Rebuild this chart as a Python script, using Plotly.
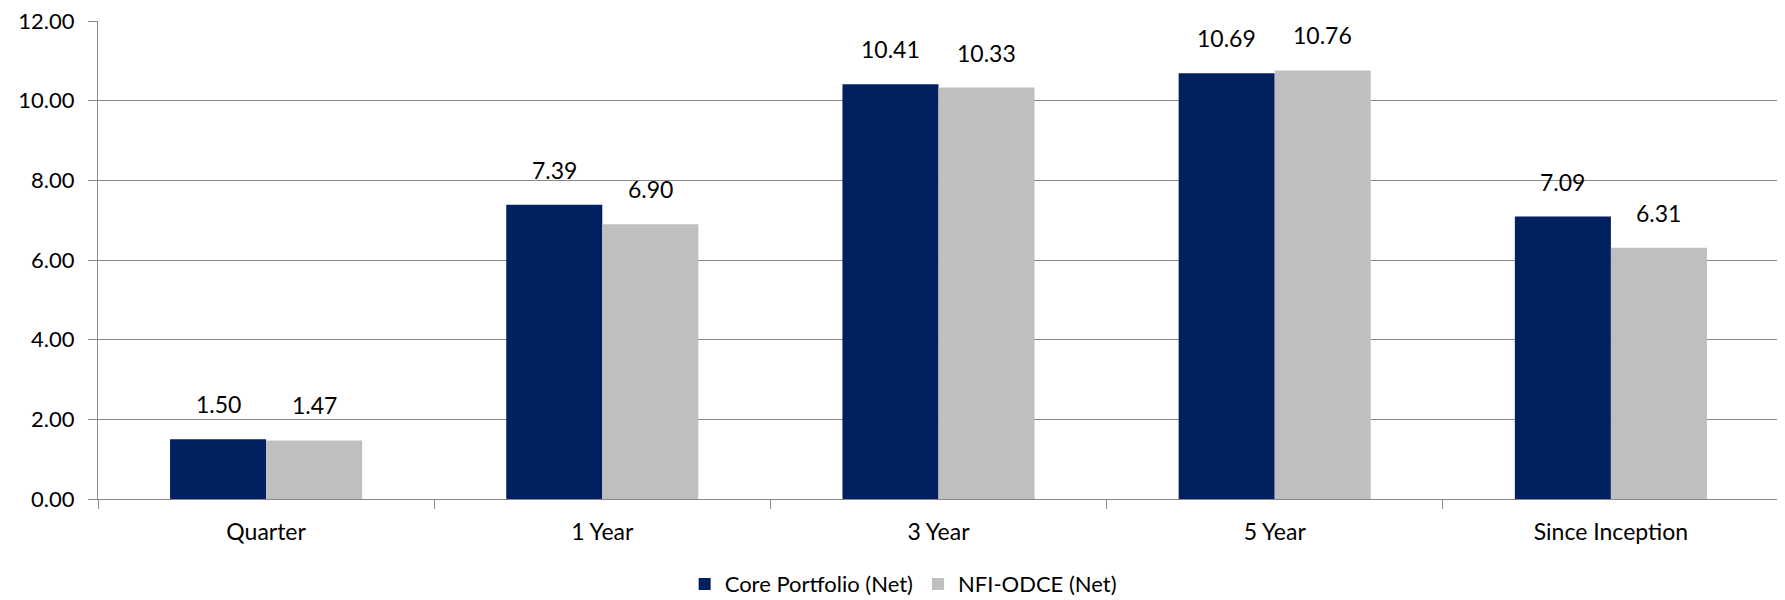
import plotly.graph_objects as go

categories = ["Quarter", "1 Year", "3 Year", "5 Year", "Since Inception"]
core_net = [1.50, 7.39, 10.41, 10.69, 7.09]
odce_net = [1.47, 6.90, 10.33, 10.76, 6.31]
series_names = ["Core Portfolio (Net)", "NFI-ODCE (Net)"]
y_ticks = [0, 2, 4, 6, 8, 10, 12]

FONT = "Lato"
FS = 23
NAVY = "#002060"
GRAY = "#BFBFBF"
GRID = "#888888"

fig = go.Figure()
fig.add_trace(go.Bar(x=categories, y=core_net, name=series_names[0],
                     marker=dict(color=NAVY, line=dict(width=0))))
fig.add_trace(go.Bar(x=categories, y=odce_net, name=series_names[1],
                     marker=dict(color=GRAY, line=dict(width=0))))

# value labels above bars
for vals, shift in ((core_net, -48), (odce_net, 48)):
    for c, v in zip(categories, vals):
        fig.add_annotation(x=c, y=v, xref="x", yref="y", text=f"{v:.2f}",
                           showarrow=False, xshift=shift, yshift=19,
                           yanchor="bottom", font=dict(family=FONT, size=FS, color="black"))

fig.update_layout(
    width=1777, height=592,
    margin=dict(l=90, r=6, t=13, b=101, autoexpand=False),
    paper_bgcolor="white", plot_bgcolor="white",
    barmode="group", bargap=0.4286, bargroupgap=0,
    font=dict(family=FONT, size=FS, color="black"),
    showlegend=True,
    legend=dict(orientation="h", xanchor="left", x=0.349, yanchor="middle", y=-0.178,
                font=dict(family=FONT, size=22, color="black"),
                itemwidth=30, traceorder="normal", bgcolor="rgba(0,0,0,0)"),
)
fig.update_yaxes(range=[0, 12], tickvals=y_ticks, tickformat=".2f",
                 showgrid=True, gridcolor=GRID, gridwidth=1.3,
                 showline=True, linecolor=GRID, linewidth=1.3,
                 ticks="outside", ticklen=9, tickcolor=GRID, tickwidth=1.3,
                 ticklabelstandoff=9, zeroline=False, automargin=False,
                 ticklabeloverflow="allow", tickfont=dict(size=22))
fig.update_xaxes(showline=True, linecolor=GRID, linewidth=1.3,
                 ticks="outside", ticklen=9, tickcolor=GRID, tickwidth=1.3,
                 tickson="boundaries", ticklabelstandoff=12, showgrid=False,
                 mirror=False, automargin=False, ticklabeloverflow="allow")

fig.write_html("out.html")
